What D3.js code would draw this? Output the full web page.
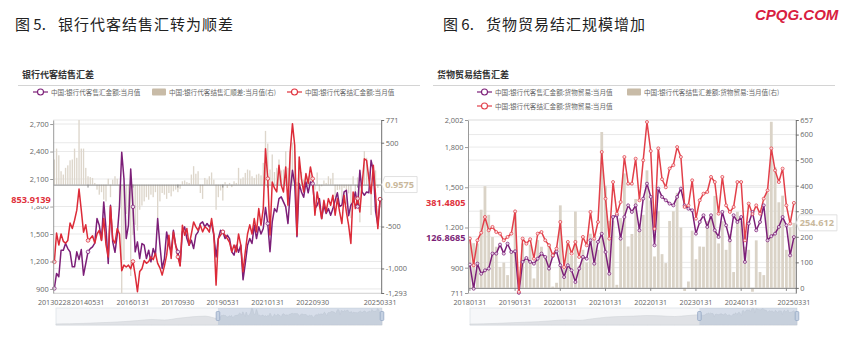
<!DOCTYPE html>
<html>
<head>
<meta charset="utf-8">
<script src="https://cdn.jsdelivr.net/npm/d3@7"></script>
<style>
  html, body { margin: 0; padding: 0; background: #fff; }
  svg { display: block; }
</style>
</head>
<body>
<svg id="chart" width="847" height="344"></svg>
<script>
// ---------- Panel 5: bank settlement / sales on behalf of clients (USD 100m), 2013-02 .. 2025-03 ----------
const clientStart = new Date(2013, 1, 1);
const clientSales = [
  906,1069,1033,1323,1323,1396,1341,1305,1142,1142,
  1305,1220,1330,1050,1178,1305,1341,1360,1400,1668,
  1596,1432,1850,1559,1178,1814,1414,1300,1490,1800,
  2393,2104,1450,1596,2210,1796,1305,1414,1232,1396,
  1378,1232,1323,1196,1341,1269,1668,1378,1123,1232,
  1523,1378,1305,1541,1378,1305,1160,1523,1578,1450,
  1378,1432,1341,1487,1523,1614,1632,1578,1614,1578,
  1614,1487,1250,1450,1541,1523,1450,1487,1450,1305,
  1269,1378,1300,1378,1000,1178,1378,1450,1396,1596,
  1450,1578,1500,1560,1790,1614,1306,1632,1777,1741,
  1886,1905,1850,1796,1614,1959,2195,2050,1469,2050,
  1959,1900,2068,1950,2068,2050,1777,1814,1886,1668,
  1814,1723,1777,1705,1777,1868,1950,1800,1814,1959,
  1977,1700,1814,1850,1959,1800,2195,1959,1923,1959,
  1950,2304,2195,1750,1596,1879
];
const clientSettle = [
  1196,1510,1380,1500,1420,1400,1430,1620,1560,1650,
  1760,1990,1760,1520,1600,1430,1450,1480,1400,1500,
  1540,1430,1670,1380,1250,1800,1440,1400,1560,1500,
  1100,1160,1140,1160,1120,1200,1050,870,1090,1120,
  1210,1180,1200,1250,1220,1290,1180,1130,1051,1150,
  1269,1487,1232,1523,1378,1250,1150,1596,1487,1559,
  1378,1500,1632,1578,1541,1596,1523,1578,1560,1520,
  1668,1500,942,1450,1487,1523,1487,1450,1410,1305,
  1380,1305,1500,1378,1087,1305,1500,1600,1500,1668,
  1523,1777,1596,1777,2431,2104,1490,2068,2000,1960,
  2250,2032,1959,2232,1814,2395,2704,2468,1487,2341,
  2104,1959,2159,2050,2232,2104,1705,1959,1814,1668,
  1868,1741,1886,1814,1923,1705,1886,1741,1614,1923,
  1741,1596,1396,1959,1777,1886,1741,2032,2320,2304,
  2104,1941,2250,1923,1559,1880
];
const clientNet = [
  300,430,350,160,120,200,230,290,300,430,
  320,771,430,430,200,100,90,80,20,-60,
  -120,-90,-180,-200,70,-150,60,100,70,-300,
  -1293,-900,-350,-420,-1090,-600,-480,-550,-300,-250,
  -200,-150,-180,-120,-150,-90,-400,-200,-100,-120,
  -170,-100,-140,-80,-60,-90,-50,40,50,30,
  20,120,220,130,160,-100,-170,80,60,100,
  145,60,-300,-150,-70,-190,30,-40,20,-30,
  40,20,200,70,87,140,180,170,100,80,
  120,130,110,260,641,490,180,360,150,200,
  300,170,180,400,200,400,500,400,30,290,
  150,60,120,100,120,60,-60,145,-80,-20,
  50,20,100,70,140,-150,-64,-60,-200,-40,
  -236,-104,-400,100,-180,86,-450,73,400,320,
  154,-363,60,170,-40,0.9575
];
const clientLeftTicks = [900, 1200, 1500, 1800, 2100, 2400, 2700];
const clientRightTicks = [-1293, -1000, -500, 500, 771];
const clientTickLabels = ["20130228","20140531","20160131","20170930","20190531","20210131","20220930","20250331"];
const clientTickMarks = ["20140531","20160131","20170930","20190531","20210131","20220930","20240531"];
// yearly levels of the sales series before the visible window (slider overview)
const clientEarlyYears = [2001,2002,2003,2004,2005,2006,2007,2008,2009,2010,2011,2012];
const clientEarlyLevels = [150,180,230,300,380,480,620,780,700,950,1150,1250];

// ---------- Panel 6: goods-trade settlement / sales (USD 100m), 2018-01 .. 2025-03 ----------
const goodsStart = new Date(2018, 0, 1);
const goodsSettle = [
  1117,918,1104,1161,1278,1179,1204,1166,1154,1104,
  1129,1154,1320,720,1117,1079,1112,967,1154,1166,
  1104,1067,992,1042,1241,905,1092,1005,1092,980,
  1129,1067,1316,1117,1241,1763,1415,1117,1539,1303,
  1390,1726,1527,1527,1713,1403,1701,1987,1770,1190,
  1790,1560,1500,1640,1665,1800,1726,1353,1365,1552,
  1266,1403,1452,1465,1577,1539,1303,1577,1365,1316,
  1353,1539,1539,1104,1378,1300,1365,1303,1415,1477,
  1790,1626,1539,1639,1365,1229,1383
];
const goodsSales = [
  923,743,930,855,880,893,1005,1005,1072,1005,
  1079,1017,1022,712,943,972,943,930,967,1005,
  980,893,987,1022,918,830,918,880,793,893,
  980,967,1104,930,1092,1153,1017,855,1278,1291,
  1117,1278,1365,1316,1365,1179,1415,1527,1428,1067,
  1490,1428,1403,1378,1365,1428,1490,1365,1340,1328,
  1154,1241,1291,1204,1291,1179,1129,1316,1216,1104,
  1291,1241,1278,943,1229,1315,1179,1241,1365,1104,
  1135,1154,1204,1278,1216,992,1128
];
const goodsNet = [
  194,175,174,306,398,286,199,161,82,99,
  50,137,298,8,174,107,169,37,187,161,
  124,174,5,20,323,75,174,125,299,87,
  149,100,212,187,149,610,398,262,261,12,
  273,448,162,211,348,224,286,460,342,123,
  300,132,97,262,300,372,236,-12,25,224,
  112,162,161,261,286,360,174,261,149,212,
  62,298,261,161,149,-15,186,62,50,373,
  650,472,335,361,149,237,254.612
];
const goodsLeftTicks = [711, 900, 1200, 1500, 1800, 2002];
const goodsRightTicks = [0, 100, 200, 300, 400, 500, 600, 657];
const goodsTickLabels = ["20180131","20190131","20200131","20210131","20220131","20230131","20240131","20250331"];
const goodsTickMarks = ["20180131","20190131","20200131","20210131","20220131","20230131","20240131","20250131"];
const goodsEarlyYears = [2001,2002,2003,2004,2005,2006,2007,2008,2009,2010,2011,2012,2013,2014,2015,2016,2017];
const goodsEarlyLevels = [90,110,150,200,250,300,380,460,420,560,700,760,800,850,820,760,850];

// end-of-series value tags
const clientTags = ["853.9139", "0.9575"];
const goodsTags = ["381.4805", "126.8685", "254.612"];

// ---------- shared styling ----------
const CJK = '"Noto Sans CJK SC", "Noto Sans", sans-serif';
const NUM = '"Open Sans", "Noto Sans", sans-serif';
const PURPLE = "#7c1f78";
const fmtNum = d3.formatLocale({decimal: ".", thousands: ",", grouping: [3], currency: ["", ""], minus: "-"}).format(",");
const fmtDate = d3.timeFormat("%Y%m%d");
const monthEnd = m => d3.timeDay.offset(d3.timeMonth.offset(m, 1), -1);

const svg = d3.select("#chart");
svg.append("rect").attr("width", 847).attr("height", 344).attr("fill", "#fff");

function styleAxis(g, color, textColor, size) {
  g.select(".domain").attr("stroke", color);
  g.selectAll(".tick line").attr("stroke", color);
  g.selectAll("text").attr("fill", textColor).attr("font-family", NUM).attr("font-size", size || 7.4);
}

function drawPanel(p) {
  const g = svg.append("g");
  const n = p.sales.length;
  const months = d3.timeMonth.range(p.start, d3.timeMonth.offset(p.start, n));
  const labelOf = i => fmtDate(monthEnd(months[i]));
  const indexOf = s => months.findIndex(m => fmtDate(monthEnd(m)) === s);

  const x = d3.scaleBand().domain(d3.range(n)).range([p.x0, p.x1]);
  const cx = i => x(i) + x.bandwidth() / 2;
  const yL = d3.scaleLinear().domain(p.leftDomain).range([p.yBot, p.yTop]);
  const yR = d3.scaleLinear().domain(p.rightDomain).range([p.yBot, p.yTop]);

  // horizontal grid from both value axes
  const grid = g.append("g").attr("stroke", "#e3e3e3").attr("stroke-width", 0.8);
  grid.selectAll("line.l").data(p.leftTicks).join("line").attr("class", "l")
    .attr("x1", p.x0).attr("x2", p.x1).attr("y1", d => yL(d)).attr("y2", d => yL(d));
  grid.selectAll("line.r").data(p.rightGrid).join("line").attr("class", "r")
    .attr("x1", p.x0).attr("x2", p.x1).attr("y1", d => yR(d)).attr("y2", d => yR(d));

  // net bars on the right axis
  const bw = x.bandwidth() * p.barFrac;
  g.append("g").selectAll("rect").data(p.net).join("rect")
    .attr("x", (d, i) => cx(i) - bw / 2)
    .attr("width", bw)
    .attr("y", d => Math.min(yR(d), yR(0)))
    .attr("height", d => Math.max(0.3, Math.abs(yR(d) - yR(0))))
    .attr("fill", p.barColor);

  // bottom category axis with date labels
  const bottom = g.append("g").attr("transform", `translate(0,${p.yBot})`)
    .call(d3.axisBottom(x).tickValues(p.tickLabels.map(indexOf)).tickSize(0).tickPadding(6.5).tickFormat(labelOf));
  styleAxis(bottom, "#dadada", "#666", 7.2);

  // category axis line sitting on the bars' zero
  const zero = g.append("g").attr("transform", `translate(0,${yR(0)})`)
    .call(d3.axisBottom(x).tickValues(p.tickMarks.map(indexOf)).tickSize(3).tickSizeOuter(0).tickFormat(""));
  styleAxis(zero, "#8a8a8a", "#666");

  // lines
  const line = d3.line().x((d, i) => cx(i)).y(d => yL(d));
  g.append("path").datum(p.sales).attr("d", line).attr("fill", "none")
    .attr("stroke", PURPLE).attr("stroke-width", p.lineWidth).attr("stroke-linejoin", "round");
  g.append("path").datum(p.settle).attr("d", line).attr("fill", "none")
    .attr("stroke", p.red).attr("stroke-width", p.lineWidth).attr("stroke-linejoin", "round");

  // point symbols
  const symIdx = p.symbolIdx || d3.range(n);
  [[p.sales, PURPLE], [p.settle, p.red]].forEach(([series, col]) => {
    g.append("g").selectAll("circle").data(symIdx).join("circle")
      .attr("cx", i => cx(i)).attr("cy", i => yL(series[i])).attr("r", p.symbolR)
      .attr("fill", "#fff").attr("fill-opacity", 0.8).attr("stroke", col).attr("stroke-width", 0.8);
  });

  // value axes
  const left = g.append("g").attr("transform", `translate(${p.x0},0)`)
    .call(d3.axisLeft(yL).tickValues(p.leftTicks).tickSize(3).tickSizeOuter(0).tickPadding(1.5).tickFormat(fmtNum));
  styleAxis(left, "#9a9a9a", "#666");
  const right = g.append("g").attr("transform", `translate(${p.x1},0)`)
    .call(d3.axisRight(yR).tickValues(p.rightTicks).tickSize(3).tickSizeOuter(0).tickPadding(1.5).tickFormat(fmtNum));
  styleAxis(right, "#6f6f6f", "#666");

  // end-of-series tags
  p.tags.forEach(t => {
    const y = t.axis === "left" ? yL(t.series[t.series.length - 1]) : yR(t.series[t.series.length - 1]);
    const tg = g.append("g");
    const txt = tg.append("text").text(t.text).attr("font-family", NUM).attr("font-weight", 700)
      .attr("font-size", 9.2).attr("fill", t.color).attr("dominant-baseline", "central");
    if (t.side === "left") {
      txt.attr("x", p.x0 - 2.5).attr("y", y).attr("text-anchor", "end");
      const bb = txt.node().getBBox();
      tg.insert("rect", "text").attr("x", bb.x - 2).attr("y", bb.y - 0.5)
        .attr("width", bb.width + 4).attr("height", bb.height + 1).attr("fill", "#fff");
    } else {
      txt.attr("x", p.x1 + 4).attr("y", y).attr("text-anchor", "start");
      const bb = txt.node().getBBox();
      const x0 = p.x1 + 0.5, x1 = bb.x + bb.width + 3, h = bb.height / 2 + 1.5;
      tg.insert("path", "text")
        .attr("d", `M${x0},${y} L${x0 + 3},${y - h} L${x1},${y - h} L${x1},${y + h} L${x0 + 3},${y + h} Z`)
        .attr("fill", "#fff").attr("stroke", "#d9d9d9").attr("stroke-width", 0.8);
    }
  });

  // overview slider
  const sx = d3.scaleTime().domain([new Date(2001, 2, 1), new Date(2025, 2, 1)]).range([p.sliderX0, p.sliderX1]);
  const overview = p.earlyYears.map((yr, k) => ({date: new Date(yr, 2, 1), v: p.earlyLevels[k]}))
    .concat(p.sales.map((v, i) => ({date: months[i], v})));
  const sy = d3.scaleLinear().domain([0, d3.max(overview, d => d.v)]).range([p.sliderY1, p.sliderY0]);
  const sg = g.append("g");
  sg.append("rect").attr("x", p.sliderX0).attr("y", p.sliderY0)
    .attr("width", p.sliderX1 - p.sliderX0).attr("height", p.sliderY1 - p.sliderY0)
    .attr("fill", "#f6f7f9").attr("stroke", "#dfe3e8").attr("stroke-width", 0.8);
  sg.append("path").datum(overview)
    .attr("d", d3.area().x(d => sx(d.date)).y0(p.sliderY1).y1(d => sy(d.v)).curve(d3.curveMonotoneX))
    .attr("fill", "#e0e2e6").attr("stroke", "#cdd0d5").attr("stroke-width", 0.5);
  const selX0 = sx(months[0]), selX1 = sx(months[n - 1]);
  sg.append("rect").attr("x", selX0).attr("y", p.sliderY0).attr("width", selX1 - selX0)
    .attr("height", p.sliderY1 - p.sliderY0).attr("fill", "#8fa6c8").attr("fill-opacity", 0.3);
  [selX0, selX1].forEach(hx => {
    sg.append("rect").attr("x", hx - 1.8).attr("y", p.sliderY0 + 3.5).attr("width", 3.6).attr("height", 9)
      .attr("rx", 1).attr("fill", "#c5d1e2").attr("stroke", "#8ea2c0").attr("stroke-width", 0.7);
  });
}

drawPanel({
  start: clientStart, sales: clientSales, settle: clientSettle, net: clientNet,
  x0: 53.2, x1: 381.2, yTop: 120, yBot: 293,
  leftDomain: [856, 2744], rightDomain: [-1293, 771],
  leftTicks: clientLeftTicks, rightTicks: clientRightTicks, rightGrid: clientRightTicks,
  tickLabels: clientTickLabels, tickMarks: clientTickMarks,
  barFrac: 0.6, barColor: "#ddd6cb", red: "#dc2b38", lineWidth: 1.5,
  symbolIdx: [0, 15, 35, 55, 75, 95, 115, 135, 145], symbolR: 1.8,
  tags: [
    {text: clientTags[0], series: clientSettle, axis: "left", side: "left", color: "#e0313c"},
    {text: clientTags[1], series: clientNet, axis: "right", side: "right", color: "#c9b89c"}
  ],
  earlyYears: clientEarlyYears, earlyLevels: clientEarlyLevels,
  sliderX0: 56, sliderX1: 382, sliderY0: 308, sliderY1: 325
});

drawPanel({
  start: goodsStart, sales: goodsSales, settle: goodsSettle, net: goodsNet,
  x0: 468, x1: 795.8, yTop: 120, yBot: 293,
  leftDomain: [711, 2002], rightDomain: [-20, 657],
  leftTicks: goodsLeftTicks, rightTicks: goodsRightTicks, rightGrid: goodsRightTicks,
  tickLabels: goodsTickLabels, tickMarks: goodsTickMarks,
  barFrac: 0.74, barColor: "#dad3c7", red: "#e2404a", lineWidth: 1.5,
  symbolIdx: null, symbolR: 1.5,
  tags: [
    {text: goodsTags[0], series: goodsSettle, axis: "left", side: "left", color: "#e0313c"},
    {text: goodsTags[1], series: goodsSales, axis: "left", side: "left", color: PURPLE},
    {text: goodsTags[2], series: goodsNet, axis: "right", side: "right", color: "#c9b89c"}
  ],
  earlyYears: goodsEarlyYears, earlyLevels: goodsEarlyLevels,
  sliderX0: 470, sliderX1: 797, sliderY0: 308, sliderY1: 325
});

// ---------- headings, legends ----------
function figureTitle(x, num, text) {
  svg.append("text").attr("x", x).attr("y", 30).text(num)
    .attr("font-family", CJK).attr("font-size", 15).attr("fill", "#222");
  svg.append("text").attr("x", x + 43).attr("y", 30).text(text)
    .attr("font-family", CJK).attr("font-size", 15).attr("letter-spacing", 1).attr("fill", "#222");
}
figureTitle(15, "图 5.", "银行代客结售汇转为顺差");
figureTitle(443, "图 6.", "货物贸易结汇规模增加");

svg.append("text").attr("x", 755).attr("y", 20).text("CPQG.COM")
  .attr("font-family", '"Liberation Sans", Arial, sans-serif').attr("font-weight", 700)
  .attr("font-style", "italic").attr("font-size", 15).attr("fill", "#d8203f");

[[22, "银行代客结售汇差", 18, 420], [437, "货物贸易结售汇差", 433, 835]].forEach(([x, t, l0, l1]) => {
  svg.append("text").attr("x", x).attr("y", 78).text(t)
    .attr("font-family", CJK).attr("font-weight", 700).attr("font-size", 9).attr("fill", "#333");
  svg.append("line").attr("x1", l0).attr("x2", l1).attr("y1", 85.5).attr("y2", 85.5)
    .attr("stroke", "#d4d4d4").attr("stroke-width", 1);
});

function legendLine(x, y, color, label) {
  svg.append("line").attr("x1", x).attr("x2", x + 15).attr("y1", y).attr("y2", y)
    .attr("stroke", color).attr("stroke-width", 1.2);
  svg.append("circle").attr("cx", x + 7.5).attr("cy", y).attr("r", 3)
    .attr("fill", "#fff").attr("stroke", color).attr("stroke-width", 1.1);
  svg.append("text").attr("x", x + 18).attr("y", y).attr("dominant-baseline", "central").text(label)
    .attr("font-family", CJK).attr("font-size", 6.6).attr("fill", "#666");
}
function legendBar(x, y, label) {
  svg.append("rect").attr("x", x).attr("y", y - 3.5).attr("width", 14).attr("height", 7)
    .attr("rx", 1).attr("fill", "#c8bba7");
  svg.append("text").attr("x", x + 17).attr("y", y).attr("dominant-baseline", "central").text(label)
    .attr("font-family", CJK).attr("font-size", 6.6).attr("fill", "#666");
}
legendLine(33, 92, PURPLE, "中国:银行代客售汇金额:当月值");
legendBar(152, 92, "中国:银行代客结售汇顺差:当月值(右)");
legendLine(287, 92, "#e0313c", "中国:银行代客结汇金额:当月值");

legendLine(477, 92, PURPLE, "中国:银行代客售汇金额:货物贸易:当月值");
legendBar(627, 92, "中国:银行代客结售汇差额:货物贸易:当月值(右)");
legendLine(477, 106, "#e2404a", "中国:银行代客结汇金额:货物贸易:当月值");
</script>
</body>
</html>
